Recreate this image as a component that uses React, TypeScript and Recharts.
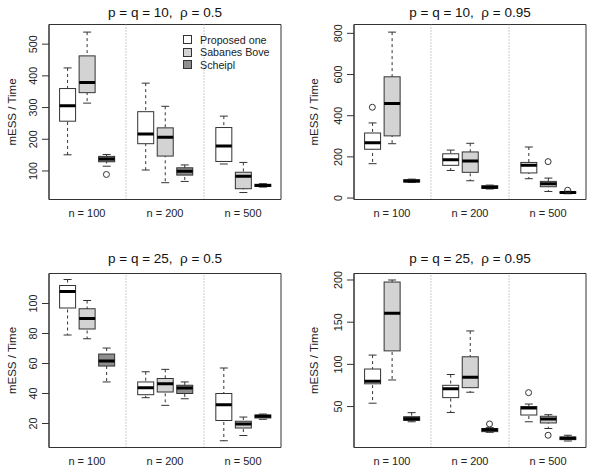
import React from 'react';
import { ComposedChart, Bar, Scatter, XAxis, YAxis, ReferenceLine, CartesianGrid } from 'recharts';

const methods = ['Proposed one', 'Sabanes Bove', 'Scheipl'];
const methodFills = ['#ffffff', '#d3d3d3', '#8e8e8e'];
const sizeLabels = ['n = 100', 'n = 200', 'n = 500'];
const titles = ['p = q = 10,  ρ = 0.5', 'p = q = 10,  ρ = 0.95', 'p = q = 25,  ρ = 0.5', 'p = q = 25,  ρ = 0.95'];

// [low whisker, q1, median, q3, high whisker]
// order: n=100 (Proposed, Sabanes Bove, Scheipl), n=200 (...), n=500 (...)
const statsA = [
  [151, 257, 306, 360, 425],
  [314, 347, 379, 463, 538],
  [115, 129, 138, 146, 152],
  [103, 186, 217, 287, 377],
  [63, 147, 206, 236, 304],
  [67, 87, 99, 110, 119],
  [122, 130, 179, 237, 273],
  [32, 44, 83, 96, 127],
  [49, 51, 54, 58, 60],
];
const outliersA = [null, null, 89, null, null, null, null, null, null];

const statsB = [
  [167, 237, 269, 316, 365],
  [264, 302, 459, 589, 806],
  [76, 78, 83, 89, 92],
  [134, 159, 186, 215, 233],
  [84, 125, 180, 224, 266],
  [44, 47, 53, 60, 63],
  [94, 122, 159, 173, 248],
  [32, 55, 70, 81, 97],
  [21, 24, 27, 30, 33],
];
const outliersB = [441, null, null, null, null, null, null, 177, 38];

const statsC = [
  [79, 97, 108, 112, 116],
  [76.5, 83, 90, 96.5, 102],
  [47.7, 58.3, 61.7, 66.3, 70.3],
  [37.2, 39.2, 43.9, 47.7, 54.5],
  [32.1, 41, 46.5, 50, 56.1],
  [36.5, 40, 43.7, 45.5, 47.7],
  [8.5, 22, 32.5, 40, 57],
  [12, 17, 19.7, 21.5, 24.3],
  [22.8, 23.7, 24.8, 25.7, 26.3],
];
const outliersC = [null, null, null, null, null, null, null, null, null];

const statsD = [
  [54, 77, 80, 94.5, 111],
  [81.5, 116, 160.5, 197.6, 200],
  [32, 33.5, 35.7, 38, 42.8],
  [43, 60.6, 71, 75.2, 88],
  [67, 72.4, 84.7, 109, 139.6],
  [19.5, 20.3, 22.6, 24, 25],
  [32, 40, 48.4, 50, 53],
  [24, 30.6, 35.3, 38.5, 40.4],
  [9.2, 10.8, 12.4, 14, 16],
];
const outliersD = [null, null, null, null, null, 29.4, 66.5, 16, null];

const ticksA = [100, 200, 300, 400, 500];
const ticksB = [0, 200, 400, 600, 800];
const ticksC = [20, 40, 60, 80, 100];
const ticksD = [50, 100, 150, 200];

const INK = '#333';
const FONT = '"Liberation Sans", Arial, Helvetica, sans-serif';
const BOX_W = 16;

// positions 1..11, with gaps at 4 and 8 (between sample sizes)
const buildRows = (stats: number[][], outliers: (number | null)[]) => {
  const rows: any[] = [];
  for (let pos = 1; pos <= 11; pos++) {
    if (pos % 4 === 0) {
      rows.push({ pos });
      continue;
    }
    const b = Math.floor(pos / 4) * 3 + (pos % 4) - 1;
    const [lo, q1, med, q3, hi] = stats[b];
    rows.push({ pos, method: b % 3, lo, q1, med, q3, hi, out: outliers[b] });
  }
  return rows;
};

const panels = [
  { stats: statsA, outliers: outliersA, ticks: ticksA, domain: [10, 562], left: 0, top: 0, width: 297, height: 237, plotLeft: 49, plotRight: 281, plotTop: 24.5, plotBottom: 199.5, titleGap: 12.5, ylabGap: 37 },
  { stats: statsB, outliers: outliersB, ticks: ticksB, domain: [-7, 843], left: 297, top: 0, width: 300, height: 237, plotLeft: 57, plotRight: 289, plotTop: 24.5, plotBottom: 199.5, titleGap: 12.5, ylabGap: 40 },
  { stats: statsC, outliers: outliersC, ticks: ticksC, domain: [4, 120], left: 0, top: 237, width: 297, height: 237, plotLeft: 49, plotRight: 281, plotTop: 36.5, plotBottom: 210.5, titleGap: 15.5, ylabGap: 37 },
  { stats: statsD, outliers: outliersD, ticks: ticksD, domain: [1.5, 207.7], left: 297, top: 237, width: 300, height: 237, plotLeft: 57, plotRight: 289, plotTop: 36.5, plotBottom: 210.5, titleGap: 15, ylabGap: 40 },
];

const WhiskerShape = (props: any) => {
  const { x, y, width, height, payload } = props;
  if (!payload || payload.lo == null) return <g />;
  const top = Math.min(y, y + height);
  const bot = Math.max(y, y + height);
  const cx = x + width / 2;
  const cap = width / 4;
  return (
    <g stroke={INK} strokeWidth={1}>
      <line x1={cx} x2={cx} y1={top} y2={bot} strokeDasharray="3 3" />
      <line x1={cx - cap} x2={cx + cap} y1={top} y2={top} />
      <line x1={cx - cap} x2={cx + cap} y1={bot} y2={bot} />
    </g>
  );
};

const BoxShape = (props: any) => {
  const { x, y, width, height, payload } = props;
  if (!payload || payload.q1 == null) return <g />;
  const top = Math.min(y, y + height);
  return <rect x={x} y={top} width={width} height={Math.abs(height)} fill={methodFills[payload.method]} stroke={INK} strokeWidth={1} />;
};

const MedianShape = (props: any) => {
  const { x, y, width, payload } = props;
  if (!payload || payload.med == null) return <g />;
  return <line x1={x} x2={x + width} y1={y} y2={y} stroke="#000" strokeWidth={3} />;
};

const OutlierShape = (props: any) => {
  const { cx, cy, payload } = props;
  if (!payload || payload.out == null || cy == null || isNaN(cy)) return <g />;
  return <circle cx={cx} cy={cy} r={3} fill="none" stroke={INK} strokeWidth={1} />;
};

const YTick = (props: any) => {
  const { x, y, payload } = props;
  const tx = x - 9;
  return (
    <text x={tx} y={y} transform={`rotate(-90 ${tx} ${y})`} textAnchor="middle" dominantBaseline="central" fontSize={10.8} fill="#222" fontFamily={FONT}>
      {payload.value}
    </text>
  );
};

const XTick = (props: any) => {
  const { x, y, index } = props;
  if (index % 4 !== 1) return <g />;
  return (
    <text x={x} y={y + 13.5} textAnchor="middle" dominantBaseline="central" fontSize={11} fill="#222" fontFamily={FONT}>
      {sizeLabels[(index - 1) / 4]}
    </text>
  );
};

const Panel = ({ cfg, title }: { cfg: any; title: string }) => {
  const data = buildRows(cfg.stats, cfg.outliers);
  const plotW = cfg.plotRight - cfg.plotLeft;
  const pad = (plotW - (11 * plotW) / 11.88) / 2;
  return (
    <div style={{ position: 'absolute', left: cfg.left, top: cfg.top }}>
      <ComposedChart
        width={cfg.width}
        height={cfg.height}
        data={data}
        margin={{ top: cfg.plotTop, right: cfg.width - cfg.plotRight, bottom: 0, left: 0 }}
        barSize={BOX_W}
        barGap={-BOX_W}
      >
        {/* plot frame: four lines on the edges of the plot area */}
        <CartesianGrid
          stroke={INK}
          strokeDasharray="0"
          horizontalCoordinatesGenerator={({ offset }: any) => [offset.top, offset.top + offset.height]}
          verticalCoordinatesGenerator={({ offset }: any) => [offset.left, offset.left + offset.width]}
        />
        <XAxis
          dataKey="pos"
          type="category"
          height={cfg.height - cfg.plotBottom}
          padding={{ left: pad, right: pad }}
          interval={0}
          tickLine={false}
          tickSize={0}
          tickMargin={0}
          tick={<XTick />}
          axisLine={{ stroke: INK }}
        />
        <YAxis
          type="number"
          domain={cfg.domain}
          ticks={cfg.ticks}
          width={cfg.plotLeft}
          tickSize={7}
          tickMargin={0}
          tick={<YTick />}
          tickLine={{ stroke: INK }}
          axisLine={{ stroke: INK }}
          allowDataOverflow
          label={{
            content: (p: any) => {
              const vb = p.viewBox;
              const axisX = vb.x + vb.width;
              const lx = axisX - cfg.ylabGap;
              const ly = vb.y + vb.height / 2;
              return (
                <g fontFamily={FONT}>
                  <text x={lx} y={ly} transform={`rotate(-90 ${lx} ${ly})`} textAnchor="middle" dominantBaseline="central" fontSize={11.5} fill="#222">
                    mESS / Time
                  </text>
                  <text
                    x={axisX + plotW / 2}
                    y={vb.y - cfg.titleGap}
                    textAnchor="middle"
                    dominantBaseline="central"
                    fontSize={13.5}
                    fill="#111"
                    style={{ whiteSpace: 'pre' }}
                  >
                    {title}
                  </text>
                </g>
              );
            },
          }}
        />
        <ReferenceLine x={4} stroke="#999" strokeDasharray="1 2" />
        <ReferenceLine x={8} stroke="#999" strokeDasharray="1 2" />
        <Bar dataKey={(d: any) => (d.lo == null ? null : [d.lo, d.hi])} shape={WhiskerShape} isAnimationActive={false} />
        <Bar dataKey={(d: any) => (d.q1 == null ? null : [d.q1, d.q3])} shape={BoxShape} isAnimationActive={false} />
        <Bar dataKey={(d: any) => (d.med == null ? null : [d.med, d.med])} shape={MedianShape} isAnimationActive={false} />
        <Scatter dataKey="out" shape={OutlierShape} isAnimationActive={false} />
      </ComposedChart>
    </div>
  );
};

const LegendBox = () => (
  <div style={{ position: 'absolute', left: 183, top: 33.5, fontFamily: FONT, fontSize: 10.7, color: '#222' }}>
    {methods.map((m, i) => (
      <div key={m} style={{ display: 'flex', alignItems: 'center', height: 12.5 }}>
        <span style={{ width: 7, height: 7, border: `1px solid ${INK}`, background: methodFills[i], display: 'inline-block', marginRight: 8 }} />
        <span>{m}</span>
      </div>
    ))}
  </div>
);

export default function App() {
  return (
    <div style={{ position: 'absolute', left: 0, top: 0, width: 597, height: 474, background: '#fff', overflow: 'hidden' }}>
      {panels.map((cfg, i) => (
        <Panel key={i} cfg={cfg} title={titles[i]} />
      ))}
      <LegendBox />
    </div>
  );
}
